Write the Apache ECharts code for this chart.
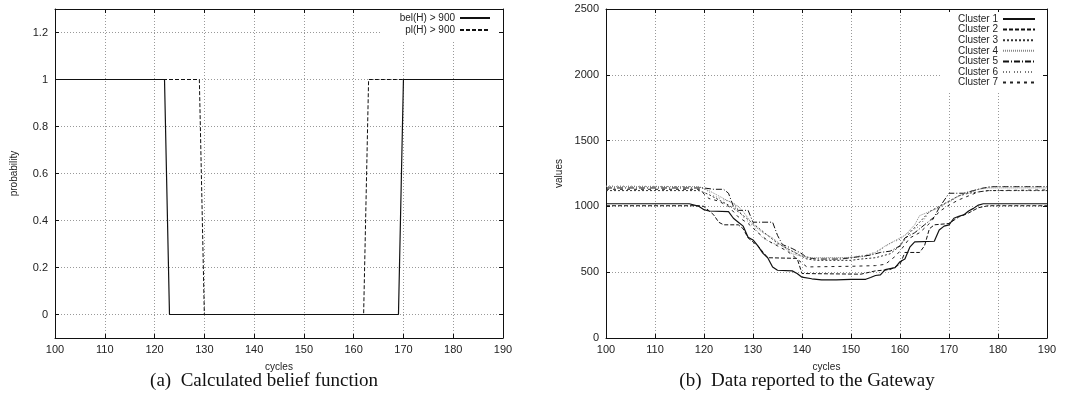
<!DOCTYPE html>
<html>
<head>
<meta charset="utf-8">
<script src="https://cdn.jsdelivr.net/npm/echarts@6/dist/echarts.min.js"></script>
<style>
  html, body { margin: 0; padding: 0; background: #fff; }
  #chart { width: 1074px; height: 393px; }
</style>
</head>
<body>
<div id="chart"></div>
<script>
// (a) belief / plausibility, [cycle, probability]
const belData = [[100, 1], [122, 1], [123, 0], [169, 0], [170, 1], [190, 1]];
const plData = [[100, 1], [129, 1], [130, 0], [162, 0], [163, 1], [190, 1]];
const probTicks = [0, 0.2, 0.4, 0.6, 0.8, 1, 1.2];

// (b) values reported per cluster, [cycle, value]
const cluster1 = [[100, 1020], [117, 1020], [118, 1010], [119, 1000], [120, 975], [121, 965], [125, 960], [126, 910], [127, 880], [128, 850], [129, 765], [130, 745], [131, 700], [132, 645], [133, 610], [134, 540], [135, 515], [138, 510], [139, 490], [140, 462], [142, 450], [144, 442], [147, 442], [150, 446], [153, 446], [154, 460], [155, 475], [156, 480], [157, 520], [159, 535], [160, 580], [161, 600], [162, 690], [163, 730], [167, 735], [168, 820], [169, 850], [170, 860], [171, 910], [172, 925], [173, 935], [174, 965], [175, 985], [176, 1010], [177, 1020], [190, 1020]];
const cluster2 = [[100, 1005], [119, 1005], [120, 1000], [122, 935], [123, 880], [124, 860], [127, 860], [128, 830], [129, 760], [131, 700], [133, 610], [139, 605], [140, 490], [152, 485], [155, 510], [158, 520], [160, 560], [161, 650], [164, 650], [165, 700], [166, 830], [167, 860], [170, 870], [172, 920], [174, 950], [176, 990], [178, 1005], [190, 1005]];
const cluster3 = [[100, 1120], [119, 1120], [121, 1090], [123, 1050], [125, 1010], [127, 960], [129, 900], [131, 840], [133, 780], [135, 720], [137, 680], [139, 640], [141, 600], [143, 590], [150, 590], [152, 600], [155, 610], [158, 640], [160, 700], [162, 800], [164, 880], [166, 960], [168, 1000], [170, 1040], [172, 1080], [174, 1100], [176, 1110], [178, 1120], [190, 1120]];
const cluster4 = [[100, 1150], [119, 1150], [121, 1120], [123, 1080], [125, 1040], [127, 1000], [128, 960], [130, 860], [132, 800], [134, 760], [136, 700], [138, 640], [140, 620], [142, 610], [150, 612], [153, 620], [155, 650], [157, 700], [159, 740], [161, 780], [163, 860], [164, 930], [166, 960], [168, 990], [170, 1040], [172, 1080], [174, 1110], [176, 1130], [178, 1140], [190, 1140]];
const cluster5 = [[100, 1140], [120, 1140], [122, 1130], [124, 1130], [125, 1100], [126, 1000], [127, 970], [129, 970], [130, 880], [134, 880], [135, 780], [136, 710], [138, 680], [140, 640], [141, 610], [143, 600], [148, 600], [150, 610], [152, 620], [154, 630], [156, 650], [158, 660], [160, 700], [161, 760], [163, 800], [165, 860], [167, 920], [168, 990], [170, 1100], [173, 1100], [175, 1120], [177, 1140], [179, 1150], [190, 1150]];
const cluster6 = [[100, 1155], [118, 1150], [120, 1140], [122, 1080], [124, 1050], [126, 1030], [128, 920], [130, 850], [132, 760], [134, 720], [136, 700], [138, 660], [140, 630], [142, 605], [148, 605], [150, 615], [152, 625], [154, 640], [156, 670], [158, 720], [160, 750], [162, 810], [164, 850], [166, 960], [168, 1000], [170, 1030], [172, 1080], [174, 1100], [176, 1130], [178, 1150], [190, 1150]];
const cluster7 = [[100, 1130], [119, 1130], [121, 1060], [123, 1040], [125, 1000], [127, 920], [129, 870], [131, 800], [133, 740], [135, 700], [137, 660], [139, 600], [141, 540], [150, 545], [155, 550], [157, 560], [159, 620], [160, 660], [162, 760], [164, 800], [166, 870], [168, 960], [170, 1010], [172, 1050], [174, 1080], [176, 1110], [178, 1120], [190, 1125]];

const clusterNames = ["Cluster 1", "Cluster 2", "Cluster 3", "Cluster 4", "Cluster 5", "Cluster 6", "Cluster 7"];
const clusterData = [cluster1, cluster2, cluster3, cluster4, cluster5, cluster6, cluster7];
const clusterStyles = [
  { type: "solid", color: "#111", width: 1.2 },
  { type: [4, 2], color: "#111", width: 1 },
  { type: [2, 2], color: "#333", width: 1 },
  { type: [1, 1], color: "#888", width: 1 },
  { type: [6, 2, 1, 2], color: "#111", width: 1 },
  { type: [1, 2, 1, 2, 1, 4], color: "#777", width: 1 },
  { type: [3, 4], color: "#222", width: 1 },
];

const FONT = "'Liberation Sans', Arial, sans-serif";
const TEXT = "#222";
const gridLine = { show: true, lineStyle: { color: "#999", type: [1, 2], width: 1 } };
const border = { show: true, onZero: false, lineStyle: { color: "#111", width: 1 } };
const tick = { show: true, inside: true, length: 4, lineStyle: { color: "#111" } };
const plain = (v) => String(v);

function cyclesAxis(gridIndex, position) {
  const main = position === "bottom";
  return {
    type: "value", gridIndex, position, min: 100, max: 190, interval: 10,
    axisLine: border, axisTick: tick,
    axisLabel: { show: main, color: TEXT, fontFamily: FONT, fontSize: 11, margin: 6, formatter: plain },
    splitLine: main ? gridLine : { show: false },
    name: main ? "cycles" : "", nameLocation: "middle", nameGap: 24,
    nameTextStyle: { color: TEXT, fontFamily: FONT, fontSize: 10 },
  };
}

const chart = echarts.init(document.getElementById("chart"), null, { renderer: "canvas" });

chart.setOption({
  animation: false,
  backgroundColor: "#fff",
  title: [
    { text: "(a)  Calculated belief function", left: 259, top: 367, textAlign: "center",
      textStyle: { fontFamily: "'Liberation Serif', 'Times New Roman', serif", fontWeight: "normal", fontSize: 19, color: "#111" } },
    { text: "(b)  Data reported to the Gateway", left: 802, top: 367, textAlign: "center",
      textStyle: { fontFamily: "'Liberation Serif', 'Times New Roman', serif", fontWeight: "normal", fontSize: 19, color: "#111" } },
  ],
  legend: [
    {
      data: ["bel(H) > 900", "pl(H) > 900"], orient: "vertical", align: "right",
      right: 577, top: 10, itemWidth: 30, itemHeight: 12, itemGap: 0,
      padding: [2, 6, 4, 18], backgroundColor: "#fff",
      itemStyle: { opacity: 0 },
      textStyle: { color: TEXT, fontFamily: FONT, fontSize: 10, lineHeight: 12 },
    },
    {
      data: clusterNames, orient: "vertical", align: "right",
      right: 32, top: 12, itemWidth: 32, itemHeight: 10, itemGap: 0.6,
      padding: [2, 6, 4, 16], backgroundColor: "#fff",
      itemStyle: { opacity: 0 },
      textStyle: { color: TEXT, fontFamily: FONT, fontSize: 10, lineHeight: 10 },
    },
  ],
  grid: [
    { left: 55, right: 571, top: 9, bottom: 55 },
    { left: 606, right: 27, top: 9, bottom: 55 },
  ],
  xAxis: [
    cyclesAxis(0, "bottom"), cyclesAxis(0, "top"),
    cyclesAxis(1, "bottom"), cyclesAxis(1, "top"),
  ],
  yAxis: [
    {
      type: "value", gridIndex: 0, position: "left", min: -0.1, max: 1.3,
      axisLine: border,
      axisTick: Object.assign({ customValues: probTicks }, tick),
      axisLabel: { customValues: probTicks, color: TEXT, fontFamily: FONT, fontSize: 11, margin: 7, formatter: plain },
      splitLine: gridLine,
      name: "probability", nameLocation: "middle", nameGap: 36,
      nameTextStyle: { color: TEXT, fontFamily: FONT, fontSize: 10 },
    },
    {
      type: "value", gridIndex: 0, position: "right", min: -0.1, max: 1.3,
      axisLine: border,
      axisTick: Object.assign({ customValues: probTicks }, tick),
      axisLabel: { show: false }, splitLine: { show: false },
    },
    {
      type: "value", gridIndex: 1, position: "left", min: 0, max: 2500, interval: 500,
      axisLine: border, axisTick: tick,
      axisLabel: { color: TEXT, fontFamily: FONT, fontSize: 11, margin: 7, formatter: plain },
      splitLine: gridLine,
      name: "values", nameLocation: "middle", nameGap: 42,
      nameTextStyle: { color: TEXT, fontFamily: FONT, fontSize: 10 },
    },
    {
      type: "value", gridIndex: 1, position: "right", min: 0, max: 2500, interval: 500,
      axisLine: border, axisTick: tick,
      axisLabel: { show: false }, splitLine: { show: false },
    },
  ],
  series: [
    {
      name: "bel(H) > 900", type: "line", xAxisIndex: 0, yAxisIndex: 0,
      data: belData, symbol: "none", color: "#111",
      lineStyle: { color: "#111", width: 1.2, type: "solid" },
    },
    {
      name: "pl(H) > 900", type: "line", xAxisIndex: 0, yAxisIndex: 0,
      data: plData, symbol: "none", color: "#111",
      lineStyle: { color: "#111", width: 1, type: [4, 2] },
    },
  ].concat(clusterNames.map((name, i) => ({
    name, type: "line", xAxisIndex: 2, yAxisIndex: 2,
    data: clusterData[i], symbol: "none", color: clusterStyles[i].color,
    lineStyle: clusterStyles[i],
  }))),
});
</script>
</body>
</html>
